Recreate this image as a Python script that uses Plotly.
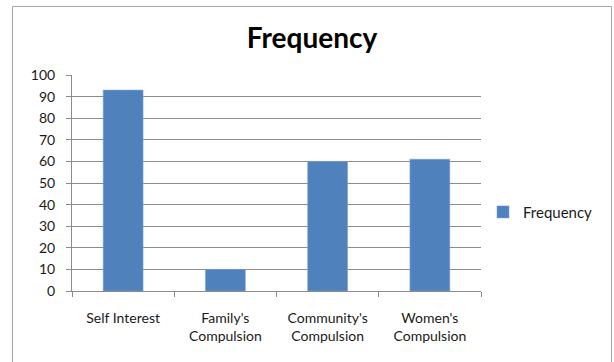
import plotly.graph_objects as go

# Survey responses: reasons and how often each was reported
categories = ["Self Interest", "Family's<br>Compulsion", "Community's<br>Compulsion", "Women's<br>Compulsion"]
frequency = [93, 10, 60, 61]
series_name = "Frequency"

BAR_COLOR = "#4F81BD"
GRID_COLOR = "#8C8C8C"
FONT = "Lato"
TEXT_COLOR = "#1a1a1a"

fig = go.Figure()
fig.add_trace(go.Bar(
    x=categories,
    y=frequency,
    name=series_name,
    marker=dict(color=BAR_COLOR, line=dict(color="#7FA3D1", width=0.6)),
    showlegend=True,
))

fig.update_layout(
    width=614,
    height=362,
    margin=dict(l=72, r=133, t=75, b=71, autoexpand=False),
    paper_bgcolor="white",
    plot_bgcolor="white",
    bargap=0.61,
    title=dict(
        text="<b>Frequency</b>",
        font=dict(family=FONT, size=28, color="#000000"),
        x=312 / 614, xref="container", xanchor="center",
        y=1 - 38 / 362, yref="container", yanchor="middle",
    ),
    font=dict(family=FONT, size=14, color=TEXT_COLOR),
    legend=dict(
        x=(483 - 72) / 409, xanchor="left",
        y=0.365, yanchor="middle",
        font=dict(family=FONT, size=15, color=TEXT_COLOR),
        itemwidth=30,
        bgcolor="rgba(0,0,0,0)",
    ),
    xaxis=dict(
        showgrid=False,
        showline=True, linecolor=GRID_COLOR, linewidth=1,
        ticks="outside", ticklen=5, tickcolor=GRID_COLOR,
        tickson="boundaries",
        ticklabelstandoff=14,
        tickfont=dict(family=FONT, size=14, color=TEXT_COLOR),
    ),
    yaxis=dict(
        range=[0, 100], dtick=10, tick0=0,
        showgrid=True, gridcolor=GRID_COLOR, gridwidth=1,
        showline=True, linecolor=GRID_COLOR, linewidth=1,
        ticks="outside", ticklen=5, tickcolor=GRID_COLOR,
        ticklabelstandoff=8,
        zeroline=False,
        tickfont=dict(family=FONT, size=14, color=TEXT_COLOR),
    ),
    # Outer chart frame
    shapes=[dict(
        type="rect", xref="paper", yref="paper",
        x0=(12.5 - 72) / 409, x1=(611.5 - 72) / 409,
        y0=-0.4, y1=1 + (75 - 6.5) / 216,
        line=dict(color="#A6A6A6", width=1),
        fillcolor="rgba(0,0,0,0)",
        layer="below",
    )],
)

fig.write_html("out.html")
